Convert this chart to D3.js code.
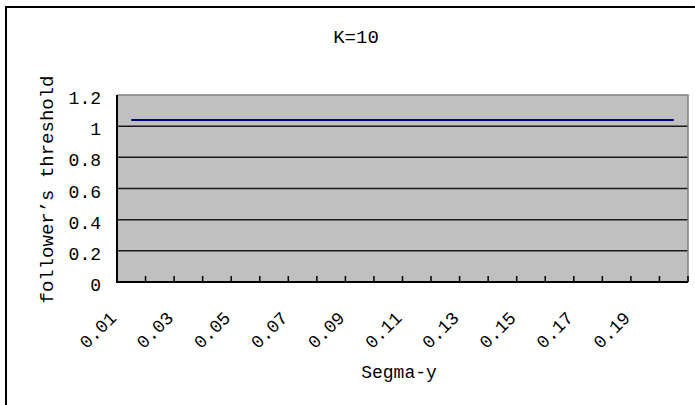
<!DOCTYPE html>
<html>
<head>
<meta charset="utf-8">
<script src="https://cdn.jsdelivr.net/npm/d3@7"></script>
<style>
  html, body { margin: 0; padding: 0; background: #fff; }
  svg { display: block; }
  text { font-family: "Liberation Mono", "DejaVu Sans Mono", monospace; fill: #000; }
</style>
</head>
<body>
<svg id="chart" width="695" height="405"></svg>
<script>
// ---- data ----
const categories = ["0.01","0.02","0.03","0.04","0.05","0.06","0.07","0.08","0.09","0.10",
                    "0.11","0.12","0.13","0.14","0.15","0.16","0.17","0.18","0.19","0.20"];
const thresholdValues = [1.04,1.04,1.04,1.04,1.04,1.04,1.04,1.04,1.04,1.04,
                         1.04,1.04,1.04,1.04,1.04,1.04,1.04,1.04,1.04,1.04];
const yTickValues = [0, 0.2, 0.4, 0.6, 0.8, 1, 1.2];
const yTickLabels = ["0", "0.2", "0.4", "0.6", "0.8", "1", "1.2"];
const xTickLabels = ["0.01","0.03","0.05","0.07","0.09","0.11","0.13","0.15","0.17","0.19"];
const chartTitle = "K=10";
const xTitle = "Segma-y";
const yTitle = "follower\u2019s threshold";

// ---- layout ----
const W = 695, H = 405;
const plot = { left: 117, right: 688, top: 95, bottom: 282 };

const svg = d3.select("#chart");

// outer frame
svg.append("rect")
  .attr("x", 6).attr("y", 7)
  .attr("width", W + 20).attr("height", H + 20)
  .attr("fill", "#fff").attr("stroke", "#000").attr("stroke-width", 2);

const x = d3.scaleBand().domain(categories).range([plot.left, plot.right]).padding(0);
const y = d3.scaleLinear().domain([0, 1.2]).range([plot.bottom, plot.top]);

// plot background
svg.append("rect")
  .attr("x", plot.left).attr("y", plot.top)
  .attr("width", plot.right - plot.left).attr("height", plot.bottom - plot.top)
  .attr("fill", "#C0C0C0");

// gridlines
svg.append("g").selectAll("line")
  .data(yTickValues.filter(v => v > 0 && v < 1.2))
  .join("line")
  .attr("x1", plot.left).attr("x2", plot.right)
  .attr("y1", d => y(d)).attr("y2", d => y(d))
  .attr("stroke", "#1a1a1a").attr("stroke-width", 1.5);

// top / right border (gray)
svg.append("path")
  .attr("d", `M${plot.left},${y(1.2)}H${plot.right}V${plot.bottom}`)
  .attr("fill", "none").attr("stroke", "#808080").attr("stroke-width", 1.5);

// left axis
svg.append("line")
  .attr("x1", plot.left).attr("x2", plot.left)
  .attr("y1", y(1.2)).attr("y2", y(0))
  .attr("stroke", "#000").attr("stroke-width", 2);

// bottom axis
svg.append("line")
  .attr("x1", plot.left - 1).attr("x2", plot.right)
  .attr("y1", y(0)).attr("y2", y(0))
  .attr("stroke", "#000").attr("stroke-width", 2);

// x ticks at category boundaries (pointing inward)
const boundaries = categories.map(c => x(c)).concat([x.range()[1]]);
svg.append("g").selectAll("line")
  .data(boundaries)
  .join("line")
  .attr("x1", d => d).attr("x2", d => d)
  .attr("y1", y(0)).attr("y2", y(0) - 6)
  .attr("stroke", "#000").attr("stroke-width", 1.5);

// y tick labels
svg.append("g").selectAll("text")
  .data(yTickValues)
  .join("text")
  .attr("x", 101)
  .attr("y", d => y(d) + 9)
  .attr("text-anchor", "end")
  .attr("font-size", 18)
  .text((d, i) => yTickLabels[i]);

// x tick labels (rotated)
svg.append("g").selectAll("text")
  .data(xTickLabels)
  .join("text")
  .attr("text-anchor", "end")
  .attr("font-size", 18)
  .attr("transform", d => `translate(${x(d) + x.bandwidth() / 2 - 14},${y(0) + 37}) rotate(-45)`)
  .text(d => d);

// line
const line = d3.line()
  .x((d, i) => x(categories[i]) + x.bandwidth() / 2)
  .y(d => y(d));
svg.append("path")
  .datum(thresholdValues)
  .attr("d", line)
  .attr("fill", "none")
  .attr("stroke", "#000080")
  .attr("stroke-width", 2);

// titles
svg.append("text")
  .attr("x", 356).attr("y", 43)
  .attr("text-anchor", "middle")
  .attr("font-size", 19)
  .text(chartTitle);

svg.append("text")
  .attr("x", 399).attr("y", 378)
  .attr("text-anchor", "middle")
  .attr("font-size", 18)
  .text(xTitle);

svg.append("text")
  .attr("transform", `translate(53,${(plot.top + plot.bottom) / 2 + 1}) rotate(-90)`)
  .attr("text-anchor", "middle")
  .attr("font-size", 19)
  .text(yTitle);
</script>
</body>
</html>
